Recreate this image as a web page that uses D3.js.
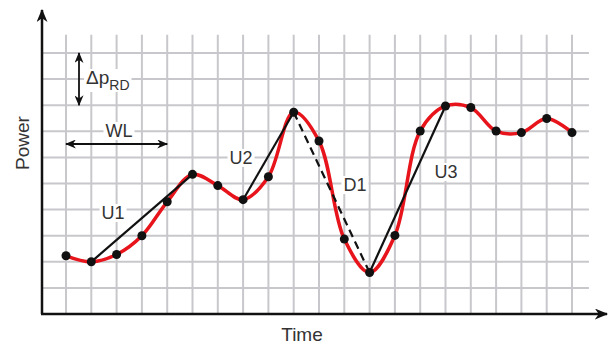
<!DOCTYPE html>
<html><head><meta charset="utf-8">
<script src="https://cdn.jsdelivr.net/npm/d3@7"></script>
<style>body{margin:0;background:#fff}svg{display:block}</style>
</head><body>
<svg id="c" width="610" height="345"></svg>
<script>
// ---- data ----
const timeSteps = [0,1,2,3,4,5,6,7,8,9,10,11,12,13,14,15,16,17,18,19,20];
const power = [2.23,2.0,2.28,3.0,4.3,5.35,4.92,4.38,5.26,7.73,6.63,2.87,1.59,3.01,7.01,7.97,7.91,7.01,6.95,7.49,6.95];
const segLabels = ["U1","U2","D1","U3"];
const segStart = [1,7,9,12];
const segEnd = [5,9,12,15];
const segDashed = [false,false,true,false];
const gridY = [1,2,3,4,5,6,7,8,9,10];

// ---- layout ----
const svg = d3.select("#c");
const x = d3.scaleLinear().domain([0,20]).range([66,572]);
const y = d3.scaleLinear().domain([0,10]).range([314,53]);
const axisX0 = 42, axisY0 = 314;
const textCol = "#333";
const font = "Liberation Sans, Arial, Helvetica, sans-serif";

const defs = svg.append("defs");
function marker(id, w, h) {
  defs.append("marker").attr("id", id).attr("viewBox", "0 0 12 10")
    .attr("refX", 11).attr("refY", 5).attr("markerWidth", w).attr("markerHeight", h)
    .attr("markerUnits", "userSpaceOnUse").attr("orient", "auto-start-reverse")
    .append("path").attr("d", "M0,0 L12,5 L0,10 L3.5,5 Z").attr("fill", "#111");
}
marker("ax", 14, 11);
marker("sm", 11, 9);

// grid
const g = svg.append("g").attr("stroke", "#c8c8cc").attr("stroke-width", 2);
g.selectAll("line.v").data(timeSteps).join("line")
  .attr("x1", d => x(d)).attr("x2", d => x(d)).attr("y1", y(10.7)).attr("y2", axisY0);
g.selectAll("line.h").data(gridY).join("line")
  .attr("x1", axisX0).attr("x2", x(20.67)).attr("y1", d => y(d)).attr("y2", d => y(d));

// annotation helpers (white label boxes)
function label(txt, cx, cy, size) {
  const t = svg.append("text").attr("x", cx).attr("y", cy).attr("text-anchor", "middle")
    .attr("dominant-baseline", "central").attr("font-family", font).attr("font-size", size)
    .attr("fill", textCol).text(txt);
  const b = t.node().getBBox();
  svg.insert("rect", () => t.node()).attr("x", b.x - 2).attr("y", b.y + 1).attr("width", b.width + 4)
    .attr("height", b.height - 2).attr("fill", "#fff");
  return t;
}

// red curve
const pts = timeSteps.map((t, i) => [t, power[i]]);
svg.append("path").datum(pts)
  .attr("d", d3.line().x(d => x(d[0])).y(d => y(d[1])).curve(d3.curveCatmullRom.alpha(0.5)))
  .attr("fill", "none").attr("stroke", "#e8141c").attr("stroke-width", 3.5);

// segment labels
const labX = [1.86, 6.92, 11.42, 15.02];
const labY = [3.87, 5.98, 4.94, 5.44];
segLabels.forEach((s, i) => label(s, x(labX[i]), y(labY[i]), 18));

// black segments
segLabels.forEach((s, i) => {
  svg.append("line")
    .attr("x1", x(segStart[i])).attr("y1", y(power[segStart[i]]))
    .attr("x2", x(segEnd[i])).attr("y2", y(power[segEnd[i]]))
    .attr("stroke", "#111").attr("stroke-width", 2.2)
    .attr("stroke-dasharray", segDashed[i] ? "8,5" : null);
});

// dots
svg.selectAll("circle.pt").data(pts).join("circle")
  .attr("cx", d => x(d[0])).attr("cy", d => y(d[1])).attr("r", 4.5).attr("fill", "#111");

// axes
svg.append("line").attr("x1", axisX0).attr("y1", axisY0).attr("x2", axisX0).attr("y2", 10)
  .attr("stroke", "#111").attr("stroke-width", 2.5).attr("marker-end", "url(#ax)");
svg.append("line").attr("x1", axisX0 - 1).attr("y1", axisY0).attr("x2", 607).attr("y2", axisY0)
  .attr("stroke", "#111").attr("stroke-width", 2.5).attr("marker-end", "url(#ax)");

// axis titles
svg.append("text").attr("x", 302).attr("y", 341).attr("text-anchor", "middle")
  .attr("font-family", font).attr("font-size", 19).attr("fill", textCol).text("Time");
svg.append("text").attr("transform", "translate(29,143) rotate(-90)").attr("text-anchor", "middle")
  .attr("font-family", font).attr("font-size", 19).attr("fill", textCol).text("Power");

// WL annotation
label("WL", 119, 131, 18);
svg.append("line").attr("x1", x(0)).attr("x2", x(4)).attr("y1", 144).attr("y2", 144)
  .attr("stroke", "#111").attr("stroke-width", 1.8)
  .attr("marker-start", "url(#sm)").attr("marker-end", "url(#sm)");

// Δp_RD annotation
const dp = svg.append("text").attr("x", 86).attr("y", 84).attr("font-family", font)
  .attr("font-size", 19).attr("fill", textCol);
dp.append("tspan").text("Δp");
dp.append("tspan").attr("dy", 6).attr("font-size", 14).text("RD");
const bb = dp.node().getBBox();
svg.insert("rect", () => dp.node()).attr("x", bb.x - 2).attr("y", bb.y + 2).attr("width", bb.width + 4)
  .attr("height", bb.height - 3).attr("fill", "#fff");
svg.append("line").attr("x1", 79).attr("x2", 79).attr("y1", y(10)).attr("y2", y(8))
  .attr("stroke", "#111").attr("stroke-width", 1.8)
  .attr("marker-start", "url(#sm)").attr("marker-end", "url(#sm)");
</script>
</body></html>
